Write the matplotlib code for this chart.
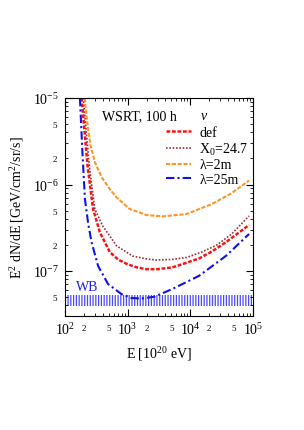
import matplotlib
matplotlib.use('Agg')
import matplotlib.pyplot as plt
import numpy as np
from matplotlib.ticker import LogLocator, FuncFormatter

plt.rcParams['font.family'] = ['Liberation Serif', 'DejaVu Serif']
plt.rcParams['mathtext.fontset'] = 'custom'
plt.rcParams['mathtext.rm'] = 'Liberation Serif'
plt.rcParams['mathtext.it'] = 'Liberation Serif:italic'
plt.rcParams['hatch.linewidth'] = 0.9

# curve data: energy [1e20 eV], E^2 dN/dE
e_def = [184, 230, 281, 359, 518, 700, 963, 1400, 2000, 3000, 5180, 7460, 13900, 22000, 37200, 86500]
f_def = [1.0e-5, 1.6e-6, 5.2e-7, 2.82e-7, 1.66e-7, 1.36e-7, 1.21e-7, 1.1e-7, 1.05e-7, 1.05e-7,
         1.1e-7, 1.2e-7, 1.4e-7, 1.68e-7, 2.16e-7, 3.4e-7]

e_x0 = [196, 245, 299, 401, 668, 1200, 2000, 2880, 5000, 8650, 15000, 25900, 45000, 86500]
f_x0 = [1.0e-5, 1.6e-6, 5.2e-7, 3.31e-7, 1.95e-7, 1.49e-7, 1.38e-7, 1.34e-7, 1.36e-7, 1.43e-7,
        1.65e-7, 1.98e-7, 2.65e-7, 4.33e-7]

e_l2 = [208, 215, 234, 256, 299, 383, 518, 662, 1077, 2000, 3600, 8650, 22300, 45000, 86500]
f_l2 = [1.0e-5, 7.13e-6, 4.38e-6, 2.81e-6, 1.82e-6, 1.22e-6, 8.87e-7, 7.11e-7, 5.21e-7, 4.44e-7,
        4.28e-7, 4.55e-7, 5.96e-7, 7.9e-7, 1.11e-6]

e_l25 = [173, 190, 208, 235, 265, 338, 486, 794, 1145, 1650, 2680, 5180, 13900, 37200, 86500]
f_l25 = [1.0e-5, 2.3e-6, 6.8e-7, 3.5e-7, 2.16e-7, 1.14e-7, 7.08e-8, 5.42e-8, 4.88e-8, 4.8e-8,
         5.05e-8, 6.2e-8, 8.83e-8, 1.5e-7, 2.68e-7]

wb_e = [1e2, 1e5]
wb_lo = [3.94e-8, 3.94e-8]
wb_hi = [5.28e-8, 5.28e-8]

fig = plt.figure(figsize=(3.04, 4.31), dpi=100)
ax = fig.add_axes([0.2138, 0.2645, 0.6184, 0.5058])

ax.fill_between(wb_e, wb_lo, wb_hi, facecolor='none', edgecolor='#4a4aff',
                hatch='||||||', linewidth=0)

ax.plot(e_def, f_def, color='#ff1010', lw=1.8, ls=(0, (1.5, 0.7)), label='def')
ax.plot(e_x0, f_x0, color='#a0303a', lw=1.2, ls=(0, (1, 1)), label='X$_0$=24.7')
ax.plot(e_l2, f_l2, color='#ff9428', lw=1.5, ls=(0, (2, 0.8)), label='λ=2m')
ax.plot(e_l25, f_l25, color='#1010ee', lw=1.5, ls=(0, (4, 1.5, 1, 1.5)), label='λ=25m')

ax.set_xscale('log')
ax.set_yscale('log')
ax.set_xlim(1e2, 1e5)
ax.set_ylim(3.02e-8, 1e-5)

def minor_fmt(v, pos):
    m = round(v / 10 ** np.floor(np.log10(v) + 1e-9))
    return str(m) if m in (2, 5) else ''

for axis in (ax.xaxis, ax.yaxis):
    axis.set_major_locator(LogLocator(base=10, numticks=10))
    axis.set_minor_locator(LogLocator(base=10, subs=np.arange(2, 10), numticks=10))
    axis.set_minor_formatter(FuncFormatter(minor_fmt))

ax.tick_params(which='both', direction='in', top=True, right=True)
ax.tick_params(which='major', length=5, width=0.8, labelsize=10, pad=4)
ax.tick_params(which='minor', length=2.5, width=0.6, labelsize=6.5, pad=6)

ax.set_xlabel('E [10$^{20}$ eV]', fontsize=10, labelpad=5)
ax.set_ylabel('E$^2$ dN/dE [GeV/cm$^2$/sr/s]', fontsize=10, labelpad=5)

ax.text(0.197, 0.905, 'WSRT, 100 h', transform=ax.transAxes, fontsize=10)
ax.text(0.725, 0.903, 'ν', transform=ax.transAxes, fontsize=10, style='italic')
ax.text(0.06, 0.117, 'WB', transform=ax.transAxes, fontsize=10, color='#2020ee')

ax.legend(loc='upper left', bbox_to_anchor=(0.5, 0.905), frameon=False, fontsize=10,
          handlelength=1.8, handletextpad=0.6, labelspacing=0.13, borderpad=0)

fig.savefig('out.png', dpi=100)
